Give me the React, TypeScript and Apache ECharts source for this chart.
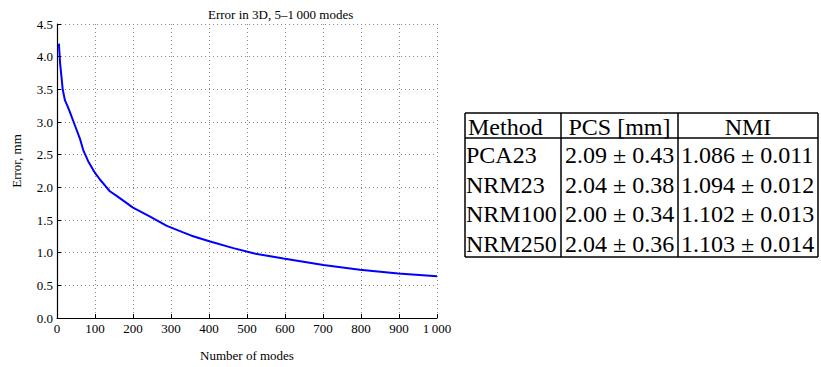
import React, { useEffect, useRef } from 'react';
import * as echarts from 'echarts';

const modes = [5, 8, 12, 15, 21, 28, 34, 47, 60, 69, 82, 100, 113, 126, 139, 157, 200, 245, 289, 332, 354, 403, 464, 517, 596, 701, 797, 898, 1000];
const errors = [4.2, 3.91, 3.68, 3.5, 3.33, 3.24, 3.15, 2.95, 2.75, 2.57, 2.4, 2.22, 2.12, 2.03, 1.94, 1.87, 1.69, 1.55, 1.41, 1.31, 1.26, 1.17, 1.07, 0.99, 0.91, 0.81, 0.74, 0.68, 0.64];

const tableHeaders = ['Method', 'PCS [mm]', 'NMI'];
const methods = ['PCA23', 'NRM23', 'NRM100', 'NRM250'];
const pcsMean = [2.09, 2.04, 2.0, 2.04];
const pcsStd = [0.43, 0.38, 0.34, 0.36];
const nmiMean = [1.086, 1.094, 1.102, 1.103];
const nmiStd = [0.011, 0.012, 0.013, 0.014];

const FONT = 'Liberation Serif, Times New Roman, serif';

export default function App() {
  const ref = useRef<HTMLDivElement>(null);
  useEffect(() => {
    if (!ref.current) return;
    const chart = echarts.init(ref.current, null, { renderer: 'svg' });

    // table geometry
    const colX = [465, 561, 678, 818];
    const top = 113;
    const headBottom = 138;
    const bottom = 257;
    const rowH = (bottom - headBottom) / methods.length;
    const lineStyle = { stroke: '#000', lineWidth: 1.5 };
    const g: any[] = [];
    g.push({ type: 'line', shape: { x1: colX[0], y1: top, x2: colX[3], y2: top }, style: lineStyle });
    g.push({ type: 'line', shape: { x1: colX[0], y1: headBottom, x2: colX[3], y2: headBottom }, style: lineStyle });
    g.push({ type: 'line', shape: { x1: colX[0], y1: bottom, x2: colX[3], y2: bottom }, style: lineStyle });
    colX.forEach((x) => {
      g.push({ type: 'line', shape: { x1: x, y1: top, x2: x, y2: bottom }, style: lineStyle });
    });
    const ts = { fill: '#000', fontSize: 24, fontFamily: FONT, verticalAlign: 'middle' };
    const hy = (top + headBottom) / 2 + 1;
    g.push({ type: 'text', x: colX[0] + 3, y: hy, style: { ...ts, text: tableHeaders[0], align: 'left' } });
    g.push({ type: 'text', x: (colX[1] + colX[2]) / 2, y: hy, style: { ...ts, text: tableHeaders[1], align: 'center' } });
    g.push({ type: 'text', x: (colX[2] + colX[3]) / 2, y: hy, style: { ...ts, text: tableHeaders[2], align: 'center' } });
    methods.forEach((m, i) => {
      const y = headBottom + rowH * (i + 0.5) + 2;
      g.push({ type: 'text', x: colX[0] + 1, y, style: { ...ts, text: m, align: 'left' } });
      g.push({ type: 'text', x: colX[1] + 4, y, style: { ...ts, text: `${pcsMean[i].toFixed(2)} ± ${pcsStd[i].toFixed(2)}`, align: 'left' } });
      g.push({ type: 'text', x: colX[2] + 3, y, style: { ...ts, text: `${nmiMean[i].toFixed(3)} ± ${nmiStd[i].toFixed(3)}`, align: 'left' } });
    });

    chart.setOption({
      animation: false,
      backgroundColor: '#fff',
      title: {
        text: 'Error in 3D, 5–1\u2009000 modes',
        left: 203,
        top: 3,
        textStyle: { fontFamily: FONT, fontSize: 13, fontWeight: 'normal', color: '#000' },
      },
      grid: { left: 57, right: 384, top: 24, bottom: 45, containLabel: false },
      xAxis: {
        type: 'value',
        min: 0,
        max: 1000,
        interval: 100,
        name: 'Number of modes',
        nameLocation: 'middle',
        nameGap: 31,
        nameTextStyle: { fontFamily: FONT, fontSize: 13, color: '#000' },
        axisLine: { onZero: false, lineStyle: { color: '#000', width: 1.2 } },
        axisTick: { inside: true, length: 4, lineStyle: { color: '#000' } },
        axisLabel: {
          fontFamily: FONT,
          fontSize: 13,
          color: '#000',
          margin: 4,
          formatter: (v: number) => (v === 1000 ? '1\u2009000' : String(v)),
        },
        splitLine: { show: true, lineStyle: { color: '#888', type: [1, 3], width: 1 } },
      },
      yAxis: {
        type: 'value',
        min: 0,
        max: 4.5,
        interval: 0.5,
        name: 'Error, mm',
        nameLocation: 'middle',
        nameGap: 34,
        nameTextStyle: { fontFamily: FONT, fontSize: 13, color: '#000', padding: [0, 0, 0, 20] },
        axisLine: { show: true, onZero: false, lineStyle: { color: '#000', width: 1.2 } },
        axisTick: { show: true, inside: true, length: 4, lineStyle: { color: '#000' } },
        axisLabel: {
          fontFamily: FONT,
          fontSize: 13,
          color: '#000',
          margin: 4,
          formatter: (v: number) => v.toFixed(1),
        },
        splitLine: { show: true, lineStyle: { color: '#888', type: [1, 3], width: 1 } },
      },
      series: [
        {
          type: 'line',
          data: modes.map((m, i) => [m, errors[i]]),
          showSymbol: false,
          smooth: false,
          lineStyle: { color: '#0000ff', width: 2 },
          itemStyle: { color: '#0000ff' },
        },
      ],
      graphic: g,
    });
    return () => chart.dispose();
  }, []);
  return <div ref={ref} style={{ position: 'absolute', left: 0, top: 0, width: 821, height: 367 }} />;
}
